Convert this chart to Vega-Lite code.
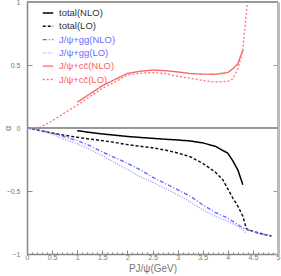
{
  "$schema": "https://vega.github.io/schema/vega-lite/v6.json",
  "width": 251,
  "height": 252,
  "autosize": {"type": "none"},
  "padding": {"left": 27, "right": 3, "top": 2, "bottom": 22},
  "config": {
    "font": "Liberation Sans",
    "view": {"stroke": null},
    "axis": {"grid": false, "domainColor": "#888888", "tickColor": "#888888", "labelColor": "#777777", "labelFontSize": 7, "titleColor": "#777777", "titleFontWeight": "normal"}
  },
  "data": {"values": [
    {"s": "total(NLO)", "x": 1.0, "y": -0.021},
    {"s": "total(NLO)", "x": 1.25, "y": -0.035},
    {"s": "total(NLO)", "x": 1.5, "y": -0.047},
    {"s": "total(NLO)", "x": 1.75, "y": -0.057},
    {"s": "total(NLO)", "x": 2.0, "y": -0.067},
    {"s": "total(NLO)", "x": 2.25, "y": -0.075},
    {"s": "total(NLO)", "x": 2.5, "y": -0.082},
    {"s": "total(NLO)", "x": 2.75, "y": -0.089},
    {"s": "total(NLO)", "x": 3.0, "y": -0.095},
    {"s": "total(NLO)", "x": 3.25, "y": -0.103},
    {"s": "total(NLO)", "x": 3.5, "y": -0.118},
    {"s": "total(NLO)", "x": 3.75, "y": -0.145},
    {"s": "total(NLO)", "x": 4.0, "y": -0.2},
    {"s": "total(NLO)", "x": 4.1, "y": -0.26},
    {"s": "total(NLO)", "x": 4.2, "y": -0.333},
    {"s": "total(NLO)", "x": 4.3, "y": -0.45},
    {"s": "total(LO)", "x": 0.0, "y": 0.0},
    {"s": "total(LO)", "x": 0.25, "y": -0.02},
    {"s": "total(LO)", "x": 0.5, "y": -0.04},
    {"s": "total(LO)", "x": 0.75, "y": -0.058},
    {"s": "total(LO)", "x": 1.0, "y": -0.074},
    {"s": "total(LO)", "x": 1.25, "y": -0.088},
    {"s": "total(LO)", "x": 1.5, "y": -0.1},
    {"s": "total(LO)", "x": 1.75, "y": -0.115},
    {"s": "total(LO)", "x": 2.0, "y": -0.132},
    {"s": "total(LO)", "x": 2.25, "y": -0.145},
    {"s": "total(LO)", "x": 2.5, "y": -0.157},
    {"s": "total(LO)", "x": 2.75, "y": -0.175},
    {"s": "total(LO)", "x": 3.0, "y": -0.198},
    {"s": "total(LO)", "x": 3.25, "y": -0.228},
    {"s": "total(LO)", "x": 3.5, "y": -0.28},
    {"s": "total(LO)", "x": 3.75, "y": -0.35},
    {"s": "total(LO)", "x": 3.9, "y": -0.41},
    {"s": "total(LO)", "x": 4.1, "y": -0.556},
    {"s": "total(LO)", "x": 4.2, "y": -0.62},
    {"s": "total(LO)", "x": 4.3, "y": -0.7},
    {"s": "total(LO)", "x": 4.37, "y": -0.8},
    {"s": "total(LO)", "x": 4.5, "y": -0.82},
    {"s": "total(LO)", "x": 4.64, "y": -0.836},
    {"s": "total(LO)", "x": 4.87, "y": -0.857},
    {"s": "J/ψ+gg(NLO)", "x": 0.0, "y": 0.0},
    {"s": "J/ψ+gg(NLO)", "x": 0.25, "y": -0.015},
    {"s": "J/ψ+gg(NLO)", "x": 0.5, "y": -0.04},
    {"s": "J/ψ+gg(NLO)", "x": 0.75, "y": -0.07},
    {"s": "J/ψ+gg(NLO)", "x": 1.0, "y": -0.1},
    {"s": "J/ψ+gg(NLO)", "x": 1.25, "y": -0.14},
    {"s": "J/ψ+gg(NLO)", "x": 1.5, "y": -0.19},
    {"s": "J/ψ+gg(NLO)", "x": 1.75, "y": -0.235},
    {"s": "J/ψ+gg(NLO)", "x": 2.0, "y": -0.28},
    {"s": "J/ψ+gg(NLO)", "x": 2.25, "y": -0.33},
    {"s": "J/ψ+gg(NLO)", "x": 2.5, "y": -0.39},
    {"s": "J/ψ+gg(NLO)", "x": 2.75, "y": -0.44},
    {"s": "J/ψ+gg(NLO)", "x": 3.0, "y": -0.49},
    {"s": "J/ψ+gg(NLO)", "x": 3.25, "y": -0.54},
    {"s": "J/ψ+gg(NLO)", "x": 3.5, "y": -0.61},
    {"s": "J/ψ+gg(NLO)", "x": 3.75, "y": -0.67},
    {"s": "J/ψ+gg(NLO)", "x": 4.0, "y": -0.715},
    {"s": "J/ψ+gg(NLO)", "x": 4.25, "y": -0.78},
    {"s": "J/ψ+gg(NLO)", "x": 4.4, "y": -0.81},
    {"s": "J/ψ+gg(NLO)", "x": 4.6, "y": -0.835},
    {"s": "J/ψ+gg(NLO)", "x": 4.87, "y": -0.857},
    {"s": "J/ψ+gg(LO)", "x": 0.0, "y": 0.0},
    {"s": "J/ψ+gg(LO)", "x": 0.25, "y": -0.02},
    {"s": "J/ψ+gg(LO)", "x": 0.5, "y": -0.05},
    {"s": "J/ψ+gg(LO)", "x": 0.75, "y": -0.09},
    {"s": "J/ψ+gg(LO)", "x": 1.0, "y": -0.125},
    {"s": "J/ψ+gg(LO)", "x": 1.25, "y": -0.17},
    {"s": "J/ψ+gg(LO)", "x": 1.5, "y": -0.22},
    {"s": "J/ψ+gg(LO)", "x": 1.75, "y": -0.275},
    {"s": "J/ψ+gg(LO)", "x": 2.0, "y": -0.33},
    {"s": "J/ψ+gg(LO)", "x": 2.25, "y": -0.386},
    {"s": "J/ψ+gg(LO)", "x": 2.5, "y": -0.43},
    {"s": "J/ψ+gg(LO)", "x": 2.75, "y": -0.48},
    {"s": "J/ψ+gg(LO)", "x": 3.0, "y": -0.53},
    {"s": "J/ψ+gg(LO)", "x": 3.25, "y": -0.585},
    {"s": "J/ψ+gg(LO)", "x": 3.5, "y": -0.65},
    {"s": "J/ψ+gg(LO)", "x": 3.75, "y": -0.7},
    {"s": "J/ψ+gg(LO)", "x": 4.0, "y": -0.74},
    {"s": "J/ψ+gg(LO)", "x": 4.25, "y": -0.79},
    {"s": "J/ψ+gg(LO)", "x": 4.37, "y": -0.836},
    {"s": "J/ψ+cc̄(NLO)", "x": 1.0, "y": 0.204},
    {"s": "J/ψ+cc̄(NLO)", "x": 1.25, "y": 0.27},
    {"s": "J/ψ+cc̄(NLO)", "x": 1.5, "y": 0.335},
    {"s": "J/ψ+cc̄(NLO)", "x": 1.75, "y": 0.385},
    {"s": "J/ψ+cc̄(NLO)", "x": 2.0, "y": 0.433},
    {"s": "J/ψ+cc̄(NLO)", "x": 2.25, "y": 0.45},
    {"s": "J/ψ+cc̄(NLO)", "x": 2.5, "y": 0.46},
    {"s": "J/ψ+cc̄(NLO)", "x": 2.75, "y": 0.455},
    {"s": "J/ψ+cc̄(NLO)", "x": 3.0, "y": 0.445},
    {"s": "J/ψ+cc̄(NLO)", "x": 3.25, "y": 0.432},
    {"s": "J/ψ+cc̄(NLO)", "x": 3.5, "y": 0.428},
    {"s": "J/ψ+cc̄(NLO)", "x": 3.75, "y": 0.426},
    {"s": "J/ψ+cc̄(NLO)", "x": 4.0, "y": 0.44},
    {"s": "J/ψ+cc̄(NLO)", "x": 4.1, "y": 0.47},
    {"s": "J/ψ+cc̄(NLO)", "x": 4.2, "y": 0.51},
    {"s": "J/ψ+cc̄(NLO)", "x": 4.3, "y": 0.62},
    {"s": "J/ψ+cc̄(LO)", "x": 0.0, "y": 0.0},
    {"s": "J/ψ+cc̄(LO)", "x": 0.25, "y": 0.005},
    {"s": "J/ψ+cc̄(LO)", "x": 0.5, "y": 0.055},
    {"s": "J/ψ+cc̄(LO)", "x": 0.75, "y": 0.12},
    {"s": "J/ψ+cc̄(LO)", "x": 1.0, "y": 0.18},
    {"s": "J/ψ+cc̄(LO)", "x": 1.25, "y": 0.25},
    {"s": "J/ψ+cc̄(LO)", "x": 1.5, "y": 0.315},
    {"s": "J/ψ+cc̄(LO)", "x": 1.75, "y": 0.365},
    {"s": "J/ψ+cc̄(LO)", "x": 2.0, "y": 0.42},
    {"s": "J/ψ+cc̄(LO)", "x": 2.25, "y": 0.435},
    {"s": "J/ψ+cc̄(LO)", "x": 2.5, "y": 0.44},
    {"s": "J/ψ+cc̄(LO)", "x": 2.75, "y": 0.433},
    {"s": "J/ψ+cc̄(LO)", "x": 3.0, "y": 0.41},
    {"s": "J/ψ+cc̄(LO)", "x": 3.25, "y": 0.395},
    {"s": "J/ψ+cc̄(LO)", "x": 3.5, "y": 0.377},
    {"s": "J/ψ+cc̄(LO)", "x": 3.75, "y": 0.365},
    {"s": "J/ψ+cc̄(LO)", "x": 4.0, "y": 0.37},
    {"s": "J/ψ+cc̄(LO)", "x": 4.1, "y": 0.39},
    {"s": "J/ψ+cc̄(LO)", "x": 4.2, "y": 0.47},
    {"s": "J/ψ+cc̄(LO)", "x": 4.25, "y": 0.54},
    {"s": "J/ψ+cc̄(LO)", "x": 4.3, "y": 0.62},
    {"s": "J/ψ+cc̄(LO)", "x": 4.33, "y": 0.75},
    {"s": "J/ψ+cc̄(LO)", "x": 4.39, "y": 1.0}
  ]},
  "layer": [
    {
      "mark": {"type": "rule", "color": "#999999", "strokeWidth": 1},
      "encoding": {"y": {"datum": 0, "scale": {"domain": [-1, 1], "nice": false, "zero": false}, "axis": null}}
    },
    {
      "mark": {"type": "line", "clip": true},
      "encoding": {
        "x": {"field": "x", "type": "quantitative", "scale": {"domain": [0, 5], "nice": false, "zero": false},
          "axis": {"title": "PJ/ψ(GeV)", "titleFontSize": 10, "titlePadding": 1,
            "values": [0,0.1,0.2,0.3,0.4,0.5,0.6,0.7,0.8,0.9,1,1.1,1.2,1.3,1.4,1.5,1.6,1.7,1.8,1.9,2,2.1,2.2,2.3,2.4,2.5,2.6,2.7,2.8,2.9,3,3.1,3.2,3.3,3.4,3.5,3.6,3.7,3.8,3.9,4,4.1,4.2,4.3,4.4,4.5,4.6,4.7,4.8,4.9,5],
            "labelExpr": "abs(round(datum.value*2)-datum.value*2)<0.001 ? format(datum.value,'~g') : ''",
            "tickSize": {"condition": {"test": "abs(round(datum.value*2)-datum.value*2)<0.001", "value": -4}, "value": -2},
            "labelPadding": 3, "domainWidth": 1.5, "labelFlush": false, "labelOverlap": false}},
        "y": {"field": "y", "type": "quantitative", "scale": {"domain": [-1, 1], "nice": false, "zero": false},
          "axis": {"title": "α", "titleFontSize": 9, "titlePadding": -6, "values": [-1, -0.5, 0, 0.5, 1], "format": "~g",
            "tickSize": -5, "labelPadding": 12, "domainWidth": 1.5, "labelFlush": false}},
        "color": {"field": "s", "type": "nominal",
          "scale": {"domain": ["total(NLO)", "total(LO)", "J/ψ+gg(NLO)", "J/ψ+gg(LO)", "J/ψ+cc̄(NLO)", "J/ψ+cc̄(LO)"],
                    "range": ["#000000", "#111111", "#6b6bff", "#9a9aff", "#ff6464", "#ff7070"]},
          "legend": {"orient": "none", "legendX": 15, "legendY": 5, "title": null, "symbolType": "stroke", "symbolSize": 110,
            "labelFontSize": 9.5, "labelOffset": 5, "rowPadding": 2.3, "symbolStrokeWidth": 1.3,
            "encode": {"labels": {"update": {"fill": {"signal": "indexof(datum.value,'gg')>=0 ? '#6b6bff' : (indexof(datum.value,'total')>=0 ? '#333333' : '#ff5c5c')"}}}}}},
        "strokeDash": {"field": "s", "type": "nominal",
          "scale": {"domain": ["total(NLO)", "total(LO)", "J/ψ+gg(NLO)", "J/ψ+gg(LO)", "J/ψ+cc̄(NLO)", "J/ψ+cc̄(LO)"],
                    "range": [[1, 0], [3, 2], [4, 2, 1, 2], [1, 1.5], [1, 0], [2, 2]]}},
        "strokeWidth": {"field": "s", "type": "nominal", "legend": null,
          "scale": {"domain": ["total(NLO)", "total(LO)", "J/ψ+gg(NLO)", "J/ψ+gg(LO)", "J/ψ+cc̄(NLO)", "J/ψ+cc̄(LO)"],
                    "range": [1.5, 1.3, 1, 1, 1, 1]}},
        "order": {"field": "x", "type": "quantitative"}
      }
    },
    {
      "mark": {"type": "rule", "color": "#999999", "strokeWidth": 1.5},
      "encoding": {"y": {"datum": 1, "scale": {"domain": [-1, 1], "nice": false, "zero": false},
        "axis": {"orient": "right", "title": null, "labels": false, "values": [-1, -0.5, 0, 0.5, 1], "tickSize": -5, "domainColor": "#bbbbbb", "domainWidth": 3, "tickColor": "#999999"}}}
    }
  ],
  "resolve": {"axis": {"y": "independent"}}
}
